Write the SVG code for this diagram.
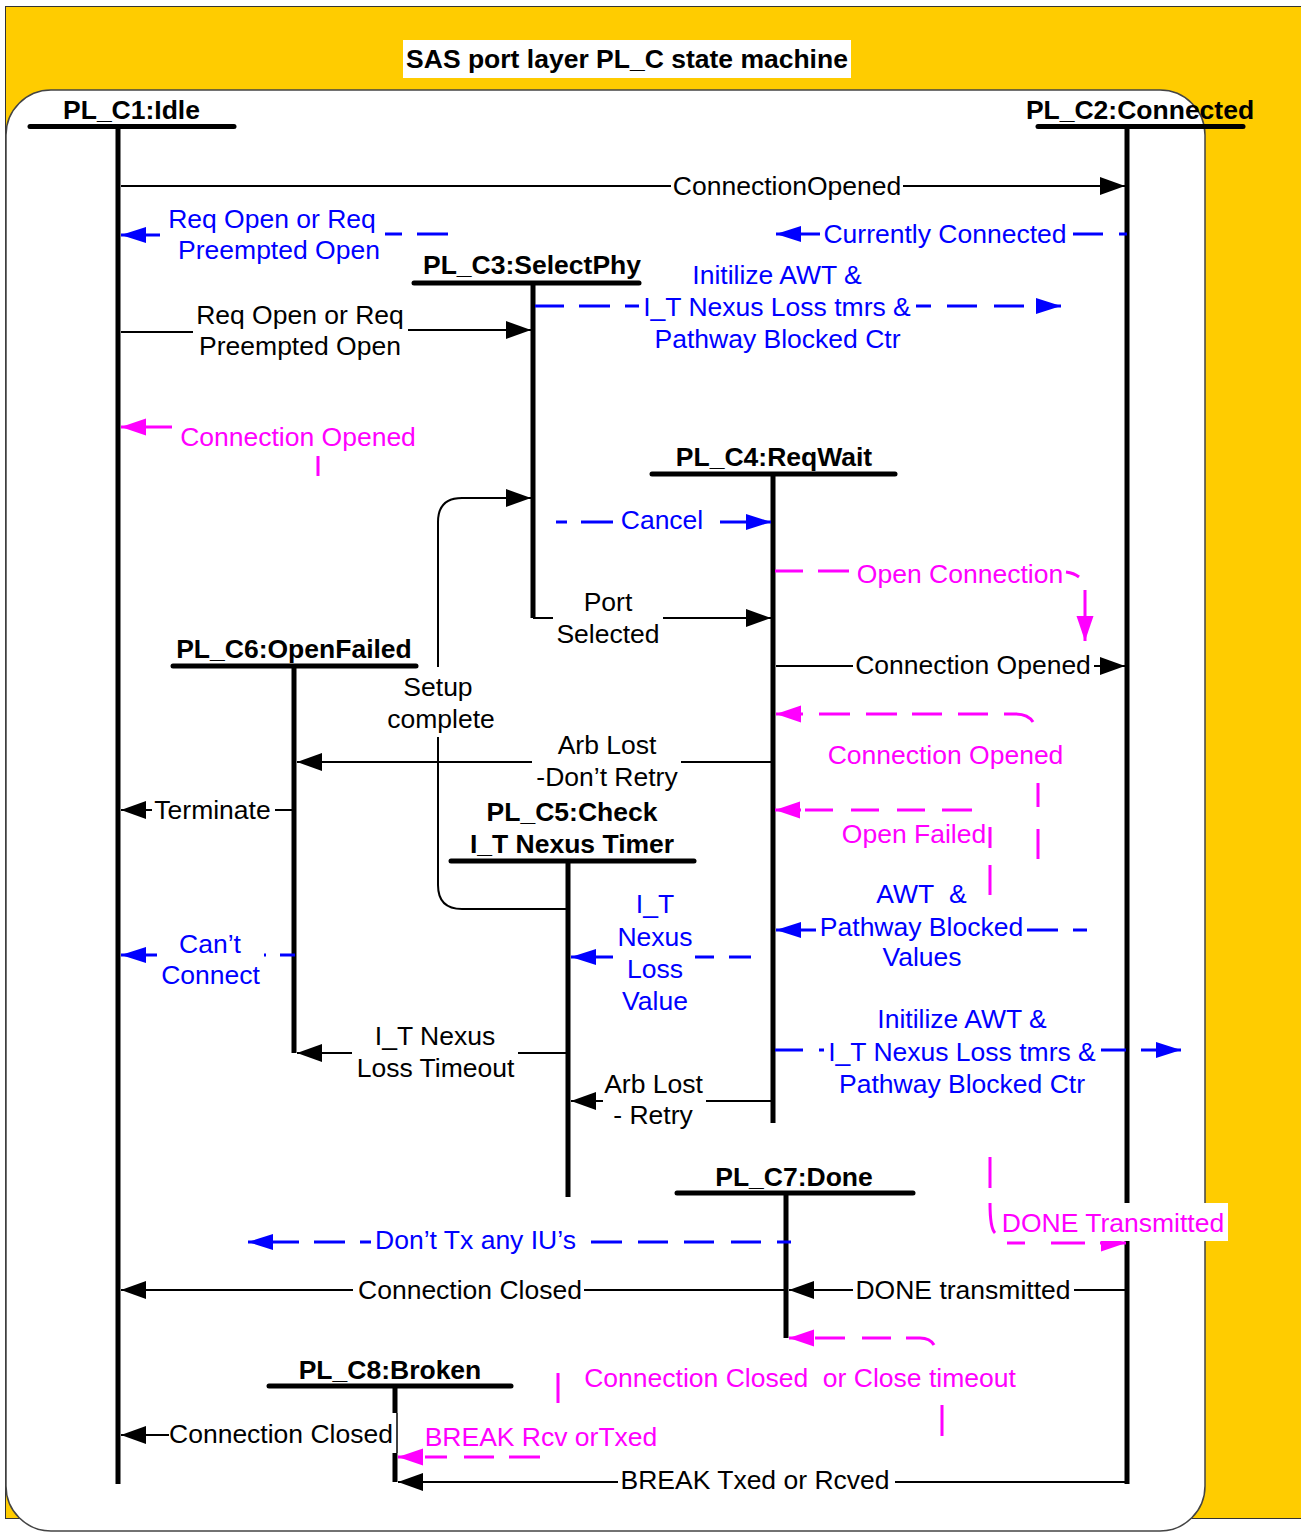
<svg xmlns="http://www.w3.org/2000/svg" width="1301" height="1533" viewBox="0 0 1301 1533">
<defs>
<style>
text { font-family: "Liberation Sans", Arial, sans-serif; font-size: 26.5px; transform: translate(0px, 1px); }
.t { fill:#000; text-anchor:middle; }
.h { font-weight:bold; fill:#000; text-anchor:middle; }
.bl { fill:#0000FF; text-anchor:middle; }
.mg { fill:#FF00FF; text-anchor:middle; }
.bar { stroke:#000; stroke-width:5; stroke-linecap:round; fill:none; }
.life { stroke:#000; stroke-width:5; fill:none; }
.k { stroke:#000; stroke-width:2; fill:none; }
.b { stroke:#0000FF; stroke-width:3; fill:none; }
.m { stroke:#FF00FF; stroke-width:3; fill:none; }
</style>
<marker id="ak" markerUnits="userSpaceOnUse" markerWidth="26" markerHeight="20" refX="25" refY="10" orient="auto" overflow="visible"><path d="M0,1 L25,10 L0,19 z" fill="#000"/></marker>
<marker id="ab" markerUnits="userSpaceOnUse" markerWidth="26" markerHeight="18" refX="25" refY="9" orient="auto" overflow="visible"><path d="M0,1 L25,9 L0,17 z" fill="#0000FF"/></marker>
<marker id="am" markerUnits="userSpaceOnUse" markerWidth="26" markerHeight="18" refX="25" refY="9" orient="auto" overflow="visible"><path d="M0,0.5 L25,9 L0,17.5 z" fill="#FF00FF"/></marker>
</defs>

<g id="background">
<rect x="5.5" y="6.5" width="1296" height="1512" fill="#FFCC00" stroke="#333" stroke-width="1"/>
<rect x="6" y="90" width="1199" height="1441" rx="45" ry="45" fill="#FFFFFF" stroke="#444" stroke-width="1.5"/>
<rect x="403" y="40" width="448" height="38" fill="#FFFFFF"/>
<text class="h" x="627" y="67">SAS port layer PL_C state machine</text>
</g>

<g id="pl_c1">
<path class="life" d="M118,126 V1484"/>
<path class="bar" d="M30,126.5 H234"/>
<text class="h" x="131.5" y="118">PL_C1:Idle</text>
</g>
<g id="pl_c2">
<path class="life" d="M1127,126 V1484"/>
<path class="bar" d="M1038,126.5 H1243"/>
<text class="h" x="1140" y="118">PL_C2:Connected</text>
</g>
<g id="pl_c3">
<path class="life" d="M533,283 V618"/>
<path class="bar" stroke-width="4" d="M414,283 H639"/>
<text class="h" x="532" y="273">PL_C3:SelectPhy</text>
</g>
<g id="pl_c4">
<path class="life" d="M773,474 V1123"/>
<path class="bar" d="M652,474 H895"/>
<text class="h" x="774" y="465">PL_C4:ReqWait</text>
</g>
<g id="pl_c5">
<path class="life" d="M568,861 V1197"/>
<path class="bar" d="M451,861 H694"/>
<text class="h" x="572" y="820">PL_C5:Check</text>
<text class="h" x="572" y="852">I_T Nexus Timer</text>
</g>
<g id="pl_c6">
<path class="life" d="M294,666 V1053"/>
<path class="bar" d="M173,666 H416"/>
<text class="h" x="294" y="657">PL_C6:OpenFailed</text>
</g>
<g id="pl_c7">
<path class="life" d="M786,1193 V1338"/>
<path class="bar" d="M677,1193 H913"/>
<text class="h" x="794" y="1185">PL_C7:Done</text>
</g>
<g id="pl_c8">
<path class="life" d="M395,1386 V1413 M395,1453 V1482"/>
<path stroke="#000" stroke-width="1.5" fill="none" d="M397,1413 V1453"/>
<path class="bar" d="M269,1386 H511"/>
<text class="h" x="390" y="1378">PL_C8:Broken</text>
</g>

<g id="connectors">
<g id="e1"><path class="k" stroke="#444" stroke-width="1.6" d="M121,186 H671 M903,186 H1125" marker-end="url(#ak)"/>
<text class="t" x="787" y="194">ConnectionOpened</text></g>
<g id="e2"><path class="k" d="M121,332 H193 M408,330 H531" marker-end="url(#ak)"/>
<text class="t" x="300" y="323">Req Open or Req</text><text class="t" x="300" y="354">Preempted Open</text></g>
<g id="e3"><path class="k" d="M533,618 H553 M663,618 H771" marker-end="url(#ak)"/>
<text class="t" x="608" y="610">Port</text><text class="t" x="608" y="642">Selected</text></g>
<g id="e4"><path class="k" d="M776,666 H853 M1094,666 H1125" marker-end="url(#ak)"/>
<text class="t" x="973" y="673">Connection Opened</text></g>
<g id="e5"><path class="k" d="M566,909 H462 Q438,909 438,885 V737 M438,667 V522 Q438,498 462,498 H531" marker-end="url(#ak)"/>
<text class="t" x="438" y="695">Setup</text><text class="t" x="441" y="727">complete</text></g>
<g id="e6"><path class="k" d="M771,762 H681 M532,762 H297" marker-end="url(#ak)"/>
<text class="t" x="607" y="753">Arb Lost</text><text class="t" x="607" y="785">-Don’t Retry</text></g>
<g id="e7"><path class="k" d="M292,810 H275 M152,810 H121" marker-end="url(#ak)"/>
<text class="t" x="212.5" y="818">Terminate</text></g>
<g id="e8"><path class="k" d="M566,1053 H518 M352,1053 H297" marker-end="url(#ak)"/>
<text class="t" x="435" y="1044">I_T Nexus</text><text class="t" x="435.5" y="1076">Loss Timeout</text></g>
<g id="e9"><path class="k" d="M771,1101 H706 M603,1101 H571" marker-end="url(#ak)"/>
<text class="t" x="653.5" y="1092">Arb Lost</text><text class="t" x="653" y="1123">- Retry</text></g>
<g id="e10"><path class="k" d="M784,1290 H584 M353,1290 H121" marker-end="url(#ak)"/>
<text class="t" x="470" y="1298">Connection Closed</text></g>
<g id="e11"><path class="k" d="M1125,1290 H1074 M853,1290 H789" marker-end="url(#ak)"/>
<text class="t" x="963" y="1298">DONE transmitted</text></g>
<g id="e12"><path class="k" d="M169,1435 H121" marker-end="url(#ak)"/>
<text class="t" x="281" y="1442">Connection Closed</text></g>
<g id="e13"><path class="k" d="M1125,1482 H895 M618,1482 H398" marker-end="url(#ak)"/>
<text class="t" x="755" y="1488">BREAK Txed or Rcved</text></g>

<g id="s1"><path class="b" d="M448,234 H417 M402,234 H385 M160,235 H121" marker-end="url(#ab)"/>
<text class="bl" x="272" y="227">Req Open or Req</text><text class="bl" x="279" y="258">Preempted Open</text></g>
<g id="s2"><path class="b" d="M1127,234 H1119 M1103,234 H1073 M820,234 H776" marker-end="url(#ab)"/>
<text class="bl" x="945" y="242">Currently Connected</text></g>
<g id="s3"><path class="b" d="M535,306 H564 M579,306 H610 M625,306 H639 M916,306 H931 M947,306 H977 M994,306 H1024 M1036,306 H1061" marker-end="url(#ab)"/>
<text class="bl" x="777" y="283">Initilize AWT &amp;</text><text class="bl" x="777" y="315">I_T Nexus Loss tmrs &amp;</text><text class="bl" x="777.5" y="347">Pathway Blocked Ctr</text></g>
<g id="s4"><path class="b" d="M556,522 H567 M581,522 H613 M720,522 H771" marker-end="url(#ab)"/>
<text class="bl" x="662" y="528">Cancel</text></g>
<g id="s5"><path class="b" d="M1087,930 H1073 M1058,930 H1027 M816,930 H776" marker-end="url(#ab)"/>
<text class="bl" x="921.5" y="902">AWT&#160; &amp;</text><text class="bl" x="921.5" y="935">Pathway Blocked</text><text class="bl" x="922" y="965">Values</text></g>
<g id="s6"><path class="b" d="M751,957 H729 M714,957 H695 M613,957 H571" marker-end="url(#ab)"/>
<text class="bl" x="655" y="912">I_T</text><text class="bl" x="655" y="945">Nexus</text><text class="bl" x="655" y="977">Loss</text><text class="bl" x="655" y="1009">Value</text></g>
<g id="s7"><path class="b" d="M295,955 H280 M266,955 H264 M157,955 H121" marker-end="url(#ab)"/>
<text class="bl" x="210" y="952">Can’t</text><text class="bl" x="210.5" y="983">Connect</text></g>
<g id="s8"><path class="b" d="M775,1050 H803 M819,1050 H824 M1101,1050 H1126 M1141,1050 H1181" marker-end="url(#ab)"/>
<text class="bl" x="962" y="1027">Initilize AWT &amp;</text><text class="bl" x="962" y="1060">I_T Nexus Loss tmrs &amp;</text><text class="bl" x="962" y="1092">Pathway Blocked Ctr</text></g>
<g id="s9"><path class="b" d="M791,1242 H777 M761,1242 H731 M714,1242 H684 M668,1242 H638 M622,1242 H591 M371,1242 H360 M345,1242 H314 M299,1242 H248" marker-end="url(#ab)"/>
<text class="bl" x="475.5" y="1248">Don’t Tx any IU’s</text></g>

<g id="p1"><path class="m" d="M172,427 H121" marker-end="url(#am)"/>
<path class="m" stroke-width="2.5" d="M318,456 V476"/>
<text class="mg" x="298" y="445">Connection Opened</text></g>
<g id="p2"><path class="m" d="M775,571 H803 M818,571 H849 M1066,572 Q1074,573 1079,577 M1085,590 V641" marker-end="url(#am)"/>
<text class="mg" x="960" y="582">Open Connection</text></g>
<g id="p3"><path class="m" d="M1038,859 V829 M1038,807 V783 M1033,722 Q1028,714 1015,714 H1004 M988,714 H958 M942,714 H912 M897,714 H866 M850,714 H819 M803,714 H776" marker-end="url(#am)"/>
<text class="mg" x="945.5" y="763">Connection Opened</text></g>
<g id="p4"><path class="m" stroke-width="2" d="M990,848 V827"/>
<path class="m" d="M990,895 V865 M972,810 H942 M925,810 H897 M879,810 H851 M833,810 H805 M801,810 H775" marker-end="url(#am)"/>
<text class="mg" x="914" y="842">Open Failed</text></g>
<g id="p5"><path class="m" d="M942,1405 V1436 M558,1373 V1403 M934,1345 Q930,1338 920,1338 H906 M891,1338 H862 M845,1338 H815 M811,1338 H789" marker-end="url(#am)"/>
<text class="mg" x="800" y="1386">Connection Closed&#160; or Close timeout</text></g>
<g id="p6"><path class="m" d="M540,1457 H509 M494,1457 H464 M447,1457 H425 M421,1457 H398" marker-end="url(#am)"/>
<text class="mg" x="541" y="1445">BREAK Rcv orTxed</text></g>
<g id="p7"><path class="m" d="M990,1157 V1188 M990,1203 Q990,1228 995,1233 M1007,1243 H1025 M1051,1243 H1085 M1100,1243 H1126" marker-end="url(#am)"/>
<rect x="996" y="1203" width="232" height="38" fill="#FFFFFF"/>
<text class="mg" x="1113" y="1231">DONE Transmitted</text></g>
</g>
</svg>
